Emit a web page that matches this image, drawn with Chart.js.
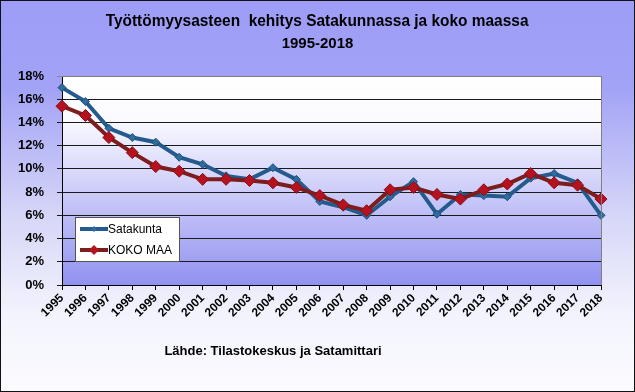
<!DOCTYPE html>
<html>
<head>
<meta charset="utf-8">
<script src="https://cdn.jsdelivr.net/npm/chart.js@4.4.1/dist/chart.umd.min.js"></script>
<style>
  html, body { margin: 0; padding: 0; background: #fff; }
  #kehys {
    position: relative;
    width: 635px;
    height: 392px;
    background: linear-gradient(to bottom, #9d9df7 0%, #a2a2f6 22%, #d6d6f8 55%, #f3f3fd 80%, #fbfbff 100%);
    font-family: "Liberation Sans", Arial, sans-serif;
  }
  #reuna {
    position: absolute; left: 0; top: 0; width: 633px; height: 390px;
    border: 1px solid #111; pointer-events: none;
  }
  .otsikko {
    position: absolute; left: 0; width: 635px; text-align: center;
    font-weight: bold; font-size: 15px; color: #000;
  }
  #lahde {
    position: absolute; left: 0; width: 546px; top: 343px; text-align: center;
    font-weight: bold; font-size: 13px; color: #000;
  }
  canvas { position: absolute; left: 0; top: 0; }
</style>
</head>
<body>
<div id="kehys">
  <canvas id="graafi" width="635" height="392"></canvas>
  <div class="otsikko" style="top:12px;font-size:16px"><span style="display:inline-block;transform:scaleX(0.965)">Työttömyysasteen&nbsp; kehitys Satakunnassa ja koko maassa</span></div>
  <div class="otsikko" style="top:34px">1995-2018</div>
  <div id="lahde">Lähde: Tilastokeskus ja Satamittari</div>
  <div id="reuna"></div>
</div>
<script>
const vuodet = ["1995", "1996", "1997", "1998", "1999", "2000", "2001", "2002",
  "2003", "2004", "2005", "2006", "2007", "2008", "2009", "2010", "2011",
  "2012", "2013", "2014", "2015", "2016", "2017", "2018"];

// työttömyysaste %
const satakunta = [17.0, 15.8, 13.5, 12.7, 12.3, 11.0, 10.4, 9.4, 9.1, 10.1,
  9.1, 7.2, 6.7, 6.0, 7.6, 8.9, 6.1, 7.8, 7.7, 7.6, 9.2, 9.6, 8.8, 6.0];
const kokoMaa = [15.4, 14.6, 12.7, 11.4, 10.2, 9.8, 9.1, 9.1, 9.0, 8.8,
  8.4, 7.7, 6.9, 6.4, 8.2, 8.4, 7.8, 7.4, 8.2, 8.7, 9.6, 8.8, 8.6, 7.4];

const yTicks = [0, 2, 4, 6, 8, 10, 12, 14, 16, 18];

// kuva-alueen tausta + reunat
const taustaPlugin = {
  id: "tausta",
  beforeDraw(chart) {
    const { ctx, chartArea: a } = chart;
    const g = ctx.createLinearGradient(0, a.top, 0, a.bottom);
    g.addColorStop(0, "#ffffff");
    g.addColorStop(0.2, "#fbfbff");
    g.addColorStop(1, "#9191f1");
    ctx.save();
    ctx.fillStyle = g;
    ctx.fillRect(a.left, a.top, a.right - a.left, a.bottom - a.top);
    ctx.restore();
  },
  afterDraw(chart) {
    const { ctx, chartArea: a } = chart;
    ctx.save();
    ctx.strokeStyle = "#808080";
    ctx.lineWidth = 1;
    ctx.beginPath();
    ctx.moveTo(a.left, a.top + 0.5);
    ctx.lineTo(a.right + 0.5, a.top + 0.5);
    ctx.lineTo(a.right + 0.5, a.bottom);
    ctx.stroke();
    ctx.restore();
  },
};

// selite kuva-alueen sisällä
const selitePlugin = {
  id: "selite",
  afterDraw(chart) {
    const ctx = chart.ctx;
    const x = 75, y = 217, w = 104, h = 44;
    ctx.save();
    ctx.fillStyle = "#ffffff";
    ctx.fillRect(x, y, w, h);
    ctx.strokeStyle = "#555";
    ctx.lineWidth = 1;
    ctx.strokeRect(x + 0.5, y + 0.5, w, h);
    ctx.font = "12px 'Liberation Sans', Arial, sans-serif";
    ctx.textBaseline = "middle";
    chart.data.datasets.forEach((ds, i) => {
      const ly = y + 12 + i * 21;
      ctx.strokeStyle = ds.borderColor;
      ctx.lineWidth = 4;
      ctx.beginPath();
      ctx.moveTo(x + 5, ly);
      ctx.lineTo(x + 33, ly);
      ctx.stroke();
      const r = ds.pointRadius - 1;
      ctx.fillStyle = ds.pointBackgroundColor;
      ctx.beginPath();
      ctx.moveTo(x + 19, ly - r);
      ctx.lineTo(x + 19 + r, ly);
      ctx.lineTo(x + 19, ly + r);
      ctx.lineTo(x + 19 - r, ly);
      ctx.closePath();
      ctx.fill();
      ctx.fillStyle = "#000";
      ctx.fillText(ds.label, x + 33, ly + 1);
    });
    ctx.restore();
  },
};

new Chart(document.getElementById("graafi"), {
  type: "line",
  data: {
    labels: vuodet,
    datasets: [
      {
        label: "Satakunta",
        data: satakunta,
        borderColor: "#245b8c",
        borderWidth: 4,
        pointStyle: "rectRot",
        pointRadius: 4,
        pointBackgroundColor: "#2f6c9e",
        pointBorderColor: "#1d4f7c",
        pointBorderWidth: 1,
        tension: 0,
        order: 2,
      },
      {
        label: "KOKO MAA",
        data: kokoMaa,
        borderColor: "#7d1e1e",
        borderWidth: 4,
        pointStyle: "rectRot",
        pointRadius: 6,
        pointBackgroundColor: "#b5121f",
        pointBorderColor: "#8a0f17",
        pointBorderWidth: 1,
        tension: 0,
        order: 1,
      },
    ],
  },
  options: {
    responsive: false,
    animation: false,
    layout: { padding: { top: 76, right: 34, left: 0, bottom: 0 } },
    plugins: {
      legend: { display: false },
      title: { display: false },
      tooltip: { enabled: false },
    },
    scales: {
      x: {
        offset: false,
        afterFit: (s) => { s.height = 107; },
        border: { color: "#000", width: 1 },
        grid: { drawOnChartArea: false, color: "#000", tickLength: 5 },
        ticks: {
          color: "#000",
          font: { family: "'Liberation Sans', Arial, sans-serif", size: 12, weight: "bold" },
          minRotation: 45,
          maxRotation: 45,
          padding: 1,
          autoSkip: false,
        },
      },
      y: {
        min: 0,
        max: 18,
        afterFit: (s) => { s.width = 62; },
        afterBuildTicks: (s) => { s.ticks = yTicks.map((v) => ({ value: v })); },
        border: { color: "#000", width: 1 },
        grid: {
          color: (c) => (c.tick && c.tick.value === 18 ? "#888" : "#1a1a1a"),
          tickLength: 5,
        },
        ticks: {
          color: "#000",
          padding: 13,
          font: { family: "'Liberation Sans', Arial, sans-serif", size: 13, weight: "bold" },
          callback: (v) => v + "%",
        },
      },
    },
  },
  plugins: [taustaPlugin, selitePlugin],
});
</script>
</body>
</html>
